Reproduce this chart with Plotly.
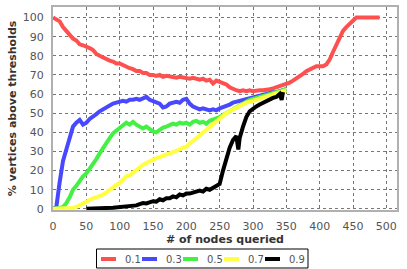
import plotly.graph_objects as go

red_x = list(range(0, 495, 5))
red_y = [100, 99, 98, 95, 93, 91, 89, 88, 86, 85.5, 85, 84, 83, 81, 80, 79, 78, 77.5, 77, 76,
         76, 75, 74, 73.5, 73, 72, 72, 71, 71, 70, 70, 69.5, 70, 69, 69.5, 69, 69, 68.5, 69, 68.5,
         68.5, 68, 68.5, 68, 67.5, 68, 67, 67.5, 65.5, 67, 66.5, 66, 65, 63.5, 62.5, 62, 61.5, 62, 61.5, 62,
         61.5, 62, 62, 62, 62, 62.5, 63, 63.5, 64, 64.5, 65, 66, 67, 68, 69, 70.5, 72, 73, 74, 74.5,
         74.5, 74.5, 75.5, 78, 82, 86, 90, 93, 95, 96.5, 98, 100, 100, 100, 100, 100, 100, 100, 100]

blue_x = list(range(0, 355, 5))
blue_y = [0, 1, 14, 25, 31, 38, 43, 45, 46.5, 44, 45, 47, 48, 49.5, 51, 52, 53.5, 54.5, 55, 55.5,
          56, 56.5, 56, 57, 57, 57.5, 57, 58, 58.5, 57, 56.5, 55.5, 55, 53, 53.5, 55, 55.5, 56, 55.5, 57,
          57.5, 55, 53.5, 53, 52, 52.5, 52, 51.5, 52, 51.5, 52.5, 53, 53.5, 54.5, 55.5, 56, 56.5, 57, 57.5, 58,
          58.5, 59, 59.5, 60, 60, 60.5, 61, 61, 61.5, 62, 62.5]

green_x = list(range(0, 355, 5))
green_y = [0, 0, 0.5, 1, 3, 6, 10, 12, 15, 17, 18.5, 21, 23, 26, 29, 32, 35, 37, 39.5, 41,
           42, 43.5, 45, 44, 45.5, 44, 43, 42, 43, 41.5, 40.5, 40, 41.5, 42.5, 43, 44, 44.5, 44, 45, 44.5,
           45, 44, 45.5, 46, 45, 45.5, 44.5, 46, 46.5, 47, 48, 49, 50, 51, 52.5, 53.5, 54.5, 55.5, 56, 57,
           57.5, 58, 58.5, 59, 59.5, 60, 60.5, 61, 61.5, 62, 62.5]

yellow_x = list(range(0, 355, 5))
yellow_y = [0, 0, 0, 0, 0, 0, 0.5, 1, 2, 3, 4, 4.5, 5.5, 6, 6.5, 7.5, 8.5, 10, 11.5, 12.5,
            13.5, 15, 17, 17.5, 19, 20.5, 22, 23, 24, 25, 25.5, 26.5, 27, 28, 28.5, 29, 29.5, 30.5, 31, 32,
            32.5, 34, 35.5, 37, 38.5, 40, 41.5, 43, 44.5, 45.5, 47, 48.5, 50, 51, 52, 53, 54, 55, 55.5, 56,
            56.5, 57, 57.5, 58.5, 59, 59.5, 60, 60.5, 61, 61.5, 62]

black_x = [50, 55, 60, 70, 80, 90, 100, 110, 115, 120, 125, 130, 135, 140, 145, 150, 155, 160, 165, 170,
           175, 180, 185, 190, 195, 200, 205, 210, 215, 220, 225, 230, 235, 240, 245, 250, 255, 260, 265, 270,
           275, 278, 280, 285, 290, 295, 300, 305, 310, 315, 320, 325, 330, 335, 340, 343, 345]
black_y = [0, 0, 0.2, 0.3, 0.5, 0.6, 0.8, 1, 1.2, 1.5, 1.8, 2.5, 3, 2.8, 3.5, 4, 3.8, 5, 4.5, 5.5,
           5.5, 6.5, 6, 7.5, 7, 8, 8, 8.5, 9, 9.5, 9, 10.5, 10, 11, 11.5, 13, 20, 27, 32, 36,
           38, 31, 37, 43, 48, 51, 52.5, 53.5, 54.5, 55.5, 56, 57, 58, 58.5, 60, 57, 61]

x_ticks = [0, 50, 100, 150, 200, 250, 300, 350, 400, 450, 500]
y_ticks = [0, 10, 20, 30, 40, 50, 60, 70, 80, 90, 100]

series_names = ["0.1", "0.3", "0.5", "0.7", "0.9"]
series_colors = ["#ff5050", "#4848ff", "#44f044", "#ffff40", "#000000"]
series_x = [red_x, blue_x, green_x, yellow_x, black_x]
series_y = [red_y, blue_y, green_y, yellow_y, black_y]

W, H = 407, 269
ML, MR, MT, MB = 53, 10, 7, 59
PW, PH = W - ML - MR, H - MT - MB


def px_to_paper(px, py):
    return (px - ML) / PW, (H - MB - py) / PH


fig = go.Figure()
for name, xs, ys, col in zip(series_names, series_x, series_y, series_colors):
    fig.add_trace(go.Scatter(x=xs, y=ys, mode="lines", name=name,
                             line=dict(color=col, width=4), showlegend=False))

# custom legend (box, samples, labels)
x0, y0 = px_to_paper(96.5, 249)
x1, y1 = px_to_paper(308, 268)
fig.add_shape(type="rect", xref="paper", yref="paper", x0=x0, y0=y1, x1=x1, y1=y0,
              line=dict(color="#000000", width=1), fillcolor="white", layer="above")
for i, (name, col) in enumerate(zip(series_names, series_colors)):
    sx = 101 + i * 41
    ax0, ay = px_to_paper(sx, 259)
    ax1, _ = px_to_paper(sx + 15, 259)
    fig.add_shape(type="line", xref="paper", yref="paper", x0=ax0, y0=ay, x1=ax1, y1=ay,
                  line=dict(color=col, width=4), layer="above")
    tx, _ = px_to_paper(sx + 22, 259)
    fig.add_annotation(xref="paper", yref="paper", x=tx, y=ay, text=name, showarrow=False,
                       xanchor="left", yanchor="middle",
                       font=dict(family="DejaVu Sans", size=10, color="#555555"))

axis_common = dict(
    showgrid=True, gridcolor="#777777", griddash="dot", gridwidth=1,
    showline=True, linecolor="#b0b0b0", linewidth=2, mirror=True,
    zeroline=False, ticks="outside", ticklen=5, tickcolor="rgba(0,0,0,0)",
    tickfont=dict(family="DejaVu Sans", size=11, color="#555555"),
)

fig.update_layout(
    width=W, height=H,
    margin=dict(l=ML, r=MR, t=MT, b=MB, autoexpand=False),
    paper_bgcolor="white", plot_bgcolor="white",
    showlegend=False,
    xaxis=dict(range=[0, 516], tickvals=x_ticks,
               title=dict(text="# of nodes queried", standoff=1,
                          font=dict(family="DejaVu Sans", size=11, color="#333333", weight="bold")),
               **axis_common),
    yaxis=dict(range=[-0.6, 105.5], tickvals=y_ticks,
               title=dict(text="% vertices above thresholds", standoff=4,
                          font=dict(family="DejaVu Sans", size=11, color="#333333", weight="bold")),
               **axis_common),
)

fig.write_html("out.html", config={"displayModeBar": False},
               post_script="document.body.style.margin='0';document.body.style.overflow='hidden';")
